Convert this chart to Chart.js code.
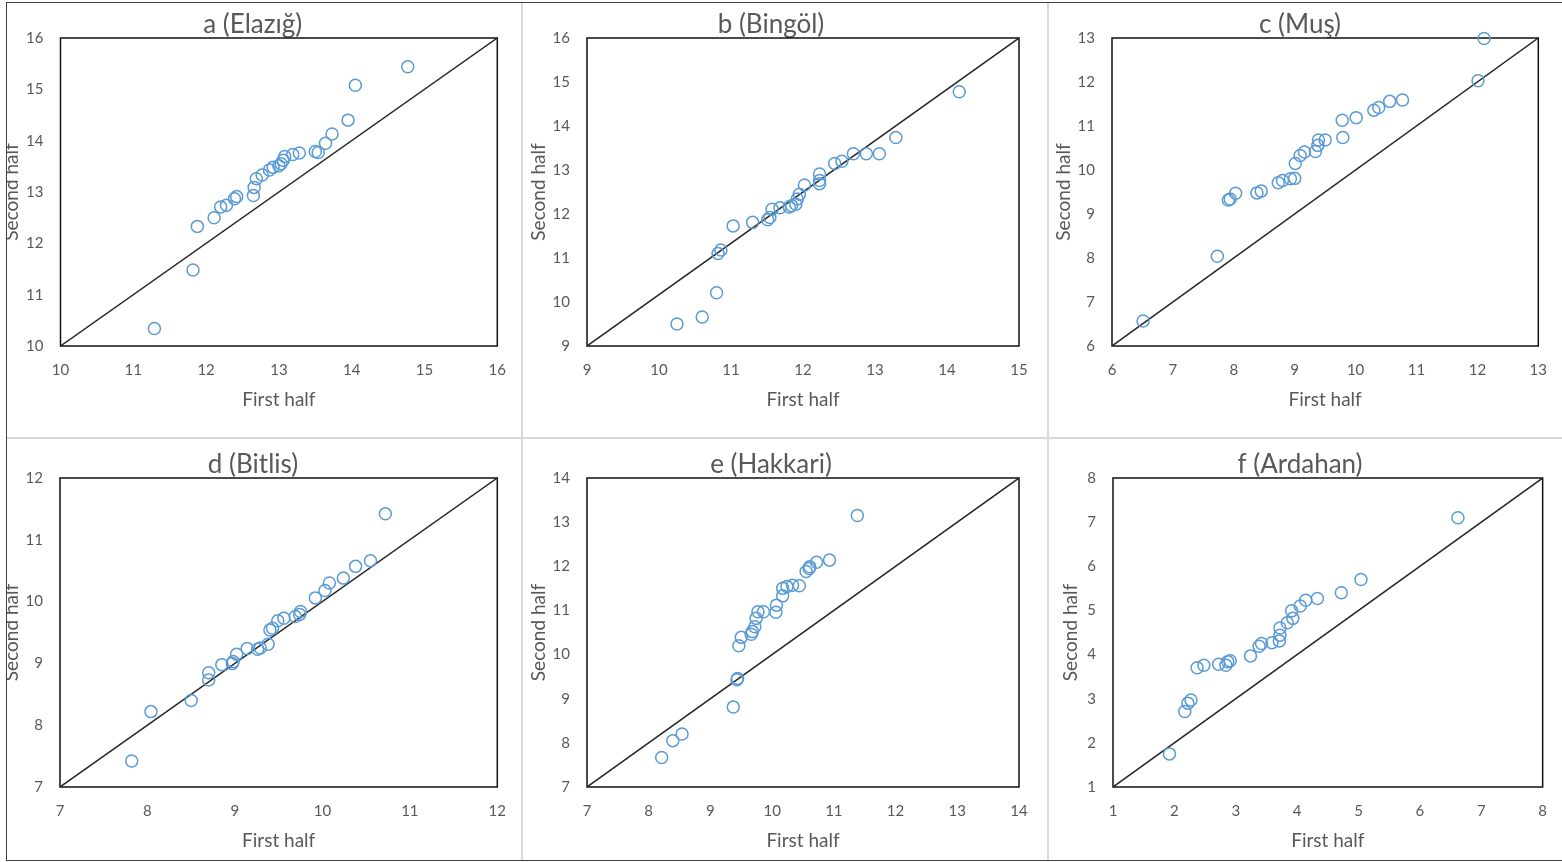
<!DOCTYPE html>
<html>
<head>
<meta charset="utf-8">
<title>First half vs second half</title>
<script src="https://cdn.jsdelivr.net/npm/chart.js@4.4.1/dist/chart.umd.min.js"></script>
<style>
  body { margin: 0; background: #fff; }
  #frame { position: absolute; left: 6px; top: 2px; width: 1556px; height: 857px; border: 1px solid #404040; border-right: none; }
  .sep { position: absolute; background: #d9d9d9; }
  canvas { position: absolute; }
</style>
</head>
<body>
<div id="frame"></div>
<div class="sep" style="left:521px; top:3px; width:2px; height:857px"></div>
<div class="sep" style="left:1047px; top:3px; width:2px; height:857px"></div>
<div class="sep" style="left:7px; top:437px; width:1555px; height:2px"></div>

<script>
// panel titles and axis ranges
const panelTitles = ['a (Elazığ)', 'b (Bingöl)', 'c (Muş)', 'd (Bitlis)', 'e (Hakkari)', 'f (Ardahan)'];
const xRanges = [[10, 16], [9, 15], [6, 13], [7, 12], [7, 14], [1, 8]];
const yRanges = [[10, 16], [9, 16], [6, 13], [7, 12], [7, 14], [1, 8]];

// values
const elazigFirst  = [11.29, 11.82, 11.88, 12.11, 12.20, 12.28, 12.39, 12.42, 12.65, 12.66, 12.69, 12.77, 12.87, 12.92, 13.00, 13.03, 13.06, 13.08, 13.19, 13.28, 13.50, 13.54, 13.64, 13.73, 13.95, 14.05, 14.77];
const elazigSecond = [10.34, 11.48, 12.33, 12.50, 12.71, 12.74, 12.87, 12.91, 12.93, 13.09, 13.26, 13.33, 13.43, 13.48, 13.51, 13.55, 13.62, 13.69, 13.73, 13.76, 13.79, 13.77, 13.95, 14.13, 14.40, 15.08, 15.44];

const bingolFirst  = [10.25, 10.60, 10.80, 10.82, 10.86, 11.03, 11.30, 11.51, 11.54, 11.57, 11.68, 11.81, 11.84, 11.90, 11.92, 11.95, 12.02, 12.23, 12.23, 12.23, 12.44, 12.54, 12.70, 12.88, 13.06, 13.29, 14.17];
const bingolSecond = [9.50, 9.66, 10.21, 11.10, 11.18, 11.73, 11.81, 11.87, 11.92, 12.11, 12.14, 12.16, 12.19, 12.22, 12.34, 12.45, 12.66, 12.69, 12.76, 12.91, 13.15, 13.20, 13.37, 13.37, 13.37, 13.74, 14.78];

const musFirst  = [6.51, 7.73, 7.91, 7.94, 8.03, 8.38, 8.45, 8.73, 8.80, 8.93, 9.00, 9.01, 9.09, 9.16, 9.34, 9.38, 9.39, 9.50, 9.79, 9.78, 10.01, 10.30, 10.38, 10.56, 10.77, 12.01, 12.11];
const musSecond = [6.57, 8.04, 9.32, 9.34, 9.47, 9.48, 9.52, 9.71, 9.76, 9.80, 9.81, 10.15, 10.33, 10.41, 10.42, 10.56, 10.68, 10.68, 10.74, 11.13, 11.19, 11.36, 11.42, 11.56, 11.59, 12.03, 12.99];

const bitlisFirst  = [7.82, 8.04, 8.50, 8.70, 8.70, 8.85, 8.97, 8.98, 9.02, 9.14, 9.26, 9.29, 9.38, 9.40, 9.43, 9.49, 9.56, 9.69, 9.74, 9.75, 9.92, 10.03, 10.08, 10.24, 10.38, 10.55, 10.72];
const bitlisSecond = [7.42, 8.22, 8.40, 8.73, 8.85, 8.98, 9.00, 9.03, 9.15, 9.24, 9.23, 9.25, 9.31, 9.54, 9.57, 9.69, 9.73, 9.76, 9.79, 9.84, 10.06, 10.18, 10.30, 10.38, 10.57, 10.66, 11.42];

const hakkariFirst  = [8.21, 8.39, 8.54, 9.37, 9.43, 9.44, 9.46, 9.50, 9.66, 9.68, 9.72, 9.74, 9.77, 9.86, 10.06, 10.07, 10.17, 10.17, 10.24, 10.33, 10.44, 10.55, 10.60, 10.61, 10.72, 10.93, 11.38];
const hakkariSecond = [7.67, 8.05, 8.20, 8.81, 9.43, 9.46, 10.20, 10.39, 10.46, 10.52, 10.63, 10.82, 10.97, 10.97, 10.96, 11.12, 11.33, 11.50, 11.54, 11.57, 11.56, 11.88, 11.95, 11.99, 12.09, 12.14, 13.15];

const ardahanFirst  = [1.92, 2.17, 2.22, 2.27, 2.37, 2.48, 2.72, 2.84, 2.87, 2.91, 3.24, 3.38, 3.42, 3.59, 3.71, 3.72, 3.72, 3.84, 3.93, 3.91, 4.05, 4.14, 4.33, 4.72, 5.04, 6.62];
const ardahanSecond = [1.75, 2.71, 2.90, 2.97, 3.70, 3.76, 3.78, 3.76, 3.84, 3.86, 3.97, 4.19, 4.25, 4.27, 4.31, 4.44, 4.60, 4.72, 4.82, 4.99, 5.10, 5.23, 5.27, 5.40, 5.70, 7.10];

const firstHalves  = [elazigFirst, bingolFirst, musFirst, bitlisFirst, hakkariFirst, ardahanFirst];
const secondHalves = [elazigSecond, bingolSecond, musSecond, bitlisSecond, hakkariSecond, ardahanSecond];

// where each panel sits on the page (layout only)
const panelBoxes = [
    {left: 7,    top: 3,   width: 514, height: 434, yAxisW: 53.5, padRight: 22.5, xAxisH: 91, titleTop: 9,    titleBottom: 0,   yTitlePad: -6.8, xTitlePad: 26},
    {left: 523,  top: 3,   width: 524, height: 434, yAxisW: 64,   padRight: 28,   xAxisH: 91, titleTop: 9,    titleBottom: 0,   yTitlePad: 4.2,  xTitlePad: 26},
    {left: 1049, top: 3,   width: 513, height: 434, yAxisW: 63,   padRight: 11,   xAxisH: 91, titleTop: 9,    titleBottom: 0,   yTitlePad: 3.2,  xTitlePad: 26},
    {left: 7,    top: 439, width: 514, height: 420, yAxisW: 53,   padRight: 22,   xAxisH: 72, titleTop: 12.5, titleBottom: 0.5, yTitlePad: -6.8, xTitlePad: 7},
    {left: 523,  top: 439, width: 524, height: 420, yAxisW: 64,   padRight: 28,   xAxisH: 72, titleTop: 12.5, titleBottom: 0.5, yTitlePad: 4.2,  xTitlePad: 7},
    {left: 1049, top: 439, width: 513, height: 420, yAxisW: 64,   padRight: 11,   xAxisH: 72, titleTop: 12.5, titleBottom: 0.5, yTitlePad: 10.2, xTitlePad: 7}
];

const textColor = '#595959';
const fontFamily = 'Lato, Calibri, "Open Sans", sans-serif';

const plotFrame = {
    id: 'plotFrame',
    beforeDatasetsDraw(chart) {
        const {ctx, chartArea: a} = chart;
        ctx.save();
        ctx.strokeStyle = '#111';
        ctx.lineWidth = 1.5;
        ctx.strokeRect(a.left, a.top, a.right - a.left, a.bottom - a.top);
        ctx.restore();
    }
};

function makePanel(i) {
    const box = panelBoxes[i];
    const [xlo, xhi] = xRanges[i];
    const [ylo, yhi] = yRanges[i];

    const canvas = document.createElement('canvas');
    canvas.width = box.width;
    canvas.height = box.height;
    canvas.style.left = box.left + 'px';
    canvas.style.top = box.top + 'px';
    canvas.style.width = box.width + 'px';
    canvas.style.height = box.height + 'px';
    document.body.appendChild(canvas);

    const points = firstHalves[i].map((x, k) => ({x: x, y: secondHalves[i][k]}));

    new Chart(canvas.getContext('2d'), {
        type: 'scatter',
        data: {
            datasets: [
                {
                    data: points,
                    pointRadius: 6,
                    pointBorderWidth: 1.5,
                    borderColor: '#5b9bd5',
                    backgroundColor: 'rgba(0,0,0,0)',
                    clip: false,
                    order: 0
                },
                {
                    // corner to corner reference line
                    type: 'line',
                    data: [{x: xlo, y: ylo}, {x: xhi, y: yhi}],
                    borderColor: '#262626',
                    borderWidth: 1.5,
                    pointRadius: 0,
                    fill: false,
                    order: 1
                }
            ]
        },
        options: {
            responsive: false,
            animation: false,
            events: [],
            layout: {padding: {left: 0, right: box.padRight, top: 0, bottom: 0}},
            plugins: {
                legend: {display: false},
                tooltip: {enabled: false},
                title: {
                    display: true,
                    text: panelTitles[i],
                    color: textColor,
                    font: {family: fontFamily, size: 26, weight: 'normal', lineHeight: 1},
                    padding: {top: box.titleTop, bottom: box.titleBottom}
                }
            },
            scales: {
                x: {
                    type: 'linear',
                    min: xlo,
                    max: xhi,
                    grid: {display: false, drawTicks: false},
                    border: {display: false},
                    ticks: {stepSize: 1, color: textColor, padding: 15, font: {family: fontFamily, size: 15}},
                    title: {
                        display: true,
                        text: 'First half',
                        color: textColor,
                        font: {family: fontFamily, size: 19},
                        padding: {top: 0, bottom: box.xTitlePad}
                    },
                    afterFit: s => { s.height = box.xAxisH; }
                },
                y: {
                    type: 'linear',
                    min: ylo,
                    max: yhi,
                    grid: {display: false, drawTicks: false},
                    border: {display: false},
                    ticks: {stepSize: 1, color: textColor, padding: 17, font: {family: fontFamily, size: 15}},
                    title: {
                        display: true,
                        text: 'Second half',
                        color: textColor,
                        font: {family: fontFamily, size: 19},
                        padding: {top: box.yTitlePad, bottom: 0}
                    },
                    afterFit: s => { s.width = box.yAxisW; }
                }
            }
        },
        plugins: [plotFrame]
    });
}

for (let i = 0; i < panelTitles.length; i++) {
    makePanel(i);
}
</script>
</body>
</html>
